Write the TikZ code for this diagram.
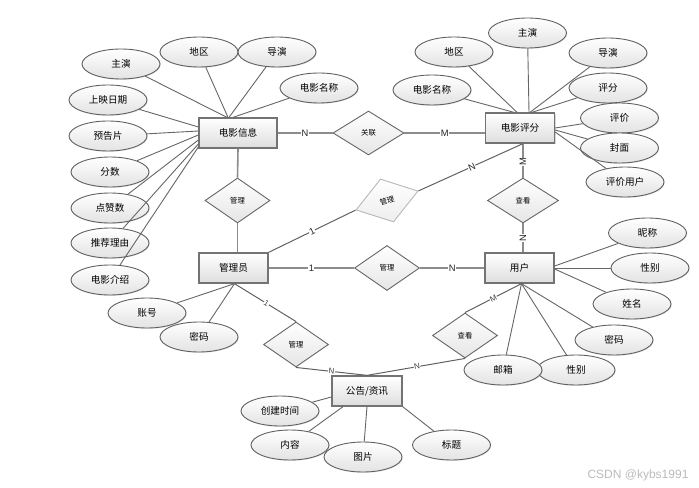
\documentclass[tikz,border=0pt]{standalone}
\usepackage{fontspec}
\setmainfont{Noto Sans CJK SC}
\newfontfamily\latinf{Liberation Sans}
\usetikzlibrary{shapes.geometric,shadows,calc}
\def\px{0.75pt}
\tikzset{
  ent/.style={rectangle, draw=black!55, line width=1.3*\px, top color=white, bottom color=black!13,
    minimum width=69*\px, minimum height=30*\px, inner sep=0pt, font=\fontsize{7.2}{8}\selectfont,
    drop shadow={opacity=0.3, shadow xshift=1.2*\px, shadow yshift=-1.2*\px}},
  attr/.style={ellipse, draw=black!62, line width=0.9*\px, top color=white, bottom color=black!11,
    minimum width=78*\px, minimum height=30*\px, inner sep=0pt, font=\fontsize{7.2}{8}\selectfont,
    drop shadow={opacity=0.2, shadow xshift=0.8*\px, shadow yshift=-0.8*\px}},
  rel/.style={diamond, draw=black!60, line width=0.9*\px, top color=white, bottom color=black!10,
    minimum width=65*\px, minimum height=45*\px, inner sep=0pt, font=\fontsize{5.5}{6}\selectfont},
  lab/.style={fill=white, inner sep=0.4pt, text=black!85, font=\latinf\fontsize{7}{8}\selectfont},
  slab/.style={fill=white, inner sep=0.3pt, text=black!75, sloped, font=\latinf\fontsize{6}{7}\selectfont},
  con/.style={draw=black!60, line width=0.9*\px},
  relline/.style={draw=black!45, line width=1.6*\px},
  diag/.style={draw=black!62, line width=1*\px},
}
\begin{document}
\begin{tikzpicture}[x=0.75pt, y=-0.75pt]
\useasboundingbox (0,0) rectangle (699,488);

% entities
\node[ent, minimum width=78*\px] (mi) at (238,133) {电影信息};
\node[ent] (pf) at (520,128) {电影评分};
\node[ent] (gly) at (233.5,268) {管理员};
\node[ent] (yh) at (519.5,268) {用户};
\node[ent, minimum width=70*\px] (gg) at (367,391) {公告/资讯};

% relationships
\node[rel, minimum width=71*\px, minimum height=44*\px] (gl) at (368.5,133) {关联};
\node[rel] (g1) at (237.5,200.5) {管理};
\node[rel, rotate=17, draw=black!28, bottom color=black!7] (g2) at (387,200.5) {管理};
\node[rel] (g3) at (387,268) {管理};
\node[rel, minimum width=71*\px] (c1) at (523,200.5) {查看};
\node[rel] (g4) at (296,344.5) {管理};
\node[rel] (c2) at (465,335.5) {查看};

% attributes of 电影信息
\node[attr] (a1) at (121,64) {主演};
\node[attr] (a2) at (199,52) {地区};
\node[attr] (a3) at (277,52) {导演};
\node[attr] (a4) at (319,88) {电影名称};
\node[attr] (a5) at (108,100) {上映日期};
\node[attr] (a6) at (108,136) {预告片};
\node[attr] (a7) at (110,172) {分数};
\node[attr] (a8) at (110,208) {点赞数};
\node[attr] (a9) at (110,243) {推荐理由};
\node[attr] (a10) at (110,280) {电影介绍};

% attributes of 电影评分
\node[attr] (b1) at (454,52) {地区};
\node[attr] (b2) at (527.5,33) {主演};
\node[attr] (b3) at (608,53) {导演};
\node[attr] (b4) at (432,90) {电影名称};
\node[attr] (b5) at (608,88) {评分};
\node[attr] (b6) at (619.5,118) {评价};
\node[attr] (b7) at (619.5,148) {封面};
\node[attr] (b8) at (625,182) {评价用户};

% attributes of 用户
\node[attr] (u1) at (647.5,233) {昵称};
\node[attr] (u2) at (650,268) {性别};
\node[attr] (u3) at (632,304) {姓名};
\node[attr] (u4) at (614,340) {密码};
\node[attr] (u5) at (576,370) {性别};
\node[attr] (u6) at (503,370) {邮箱};

% attributes of 管理员
\node[attr] (m1) at (147,313) {账号};
\node[attr] (m2) at (199,337) {密码};

% attributes of 公告/资讯
\node[attr] (n1) at (280,411) {创建时间};
\node[attr] (n2) at (290,445) {内容};
\node[attr] (n3) at (363,457) {图片};
\node[attr] (n4) at (451.5,445) {标题};

% attribute connectors (drawn behind via order: ellipses drawn already, lines clipped at borders)
\draw[con] (a1) -- ($(mi.north)+(-11,0)$);
\draw[con] (a2) -- ($(mi.north)+(-10,0)$);
\draw[con] (a3) -- ($(mi.north)+(-9,0)$);
\draw[con] (a4) -- ($(mi.north)+(-5,0)$);
\draw[con] (a5) -- ($(mi.west)+(0,-6)$);
\draw[con] (a6) -- ($(mi.west)+(0,-2)$);
\draw[con] (a7) -- ($(mi.west)+(0,2)$);
\draw[con] (a8) -- ($(mi.west)+(0,7)$);
\draw[con] (a9) -- ($(mi.west)+(0,11)$);
\draw[con] (a10) -- ($(mi.west)+(0,14)$);

\draw[con] (b1) -- ($(pf.north)+(-3,0)$);
\draw[con] (b2) -- ($(pf.north)+(9,0)$);
\draw[con] (b3) -- ($(pf.north)+(10,0)$);
\draw[con] (b4) -- ($(pf.north)+(-6,0)$);
\draw[con] (b5) -- ($(pf.north)+(12,0)$);
\draw[con] (b6) -- (pf.east);
\draw[con] (b7) -- ($(pf.east)+(0,2)$);
\draw[con] (b8) -- ($(pf.east)+(0,4)$);

\draw[con] (u1) -- ($(yh.east)+(0,-2)$);
\draw[con] (u2) -- (yh.east);
\draw[con] (u3) -- ($(yh.east)+(0,1)$);
\draw[con] (u4) -- ($(yh.south)+(2,0)$);
\draw[con] (u5) -- ($(yh.south)+(2,0)$);
\draw[con] (u6) -- ($(yh.south)+(2,0)$);

\draw[con] (m1) -- ($(gly.south)+(1,0)$);
\draw[con] (m2) -- ($(gly.south)+(1,0)$);

\draw[con] (n1) -- ($(gg.west)+(0,6)$);
\draw[con] (n2) -- ($(gg.south)+(-24,0)$);
\draw[con] (n3) -- (gg.south);
\draw[con] (n4) -- (gg.south east);

% relationship connectors
\draw[relline] (mi.east) -- node[lab]{N} (gl.west);
\draw[relline] (gl.east) -- node[lab]{M} (gl.east -| pf.west);
\draw[relline] (mi.south) -- (g1.north);
\draw[relline] (g1.south) -- (g1.south |- gly.north);
\draw[relline] (c1.north |- pf.south) -- node[lab, rotate=90, pos=0.54]{M} (c1.north);
\draw[relline] (c1.south) -- node[lab, rotate=90]{N} (c1.south |- yh.north);
\draw[relline] (gly.east) -- node[lab]{1} (g3.west);
\draw[relline] (g3.east) -- node[lab]{N} (yh.west);

\draw[diag] (gly.north east) -- node[lab, sloped]{1} (g2.west);
\draw[diag] (g2.east) -- node[lab, sloped, pos=0.51]{N} ($(pf.south)+(3,0)$);
\draw[diag] ($(gly.south)+(1,0)$) -- node[slab, pos=0.52]{1} (g4.north);
\draw[diag] (g4.south) -- node[slab]{N} (gg.north);
\draw[diag] ($(yh.south)+(2,0)$) -- node[slab]{M} (c2.north);
\draw[diag] (c2.south) -- node[slab, pos=0.49]{N} (gg.north);

% watermark
\node[font=\latinf\fontsize{9}{10}\selectfont, text=black!27] (wm) at (638,475) {CSDN @kybs1991};
\end{tikzpicture}
\end{document}
